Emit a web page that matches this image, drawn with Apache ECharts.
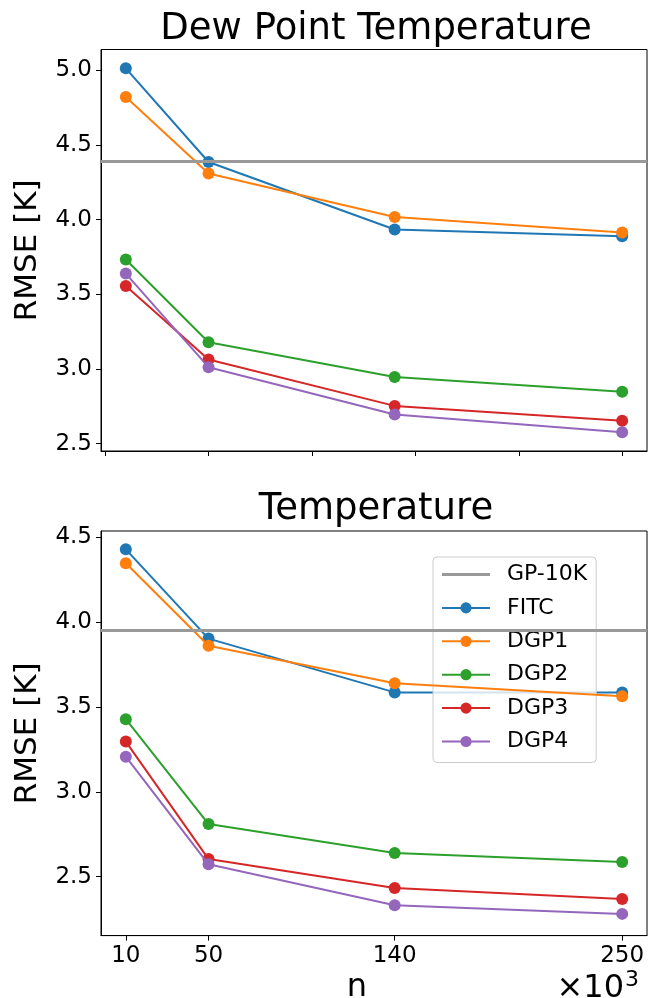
<!DOCTYPE html>
<html>
<head>
<meta charset="utf-8">
<script src="https://cdn.jsdelivr.net/npm/echarts@6/dist/echarts.min.js"></script>
<style>
  html, body { margin: 0; padding: 0; background: #fff; }
  #chart { width: 654px; height: 998px; }
</style>
</head>
<body>
<div id="chart"></div>
<script>
// Training set size n (in thousands)
const sizes = [10, 50, 140, 250];

// Dew point temperature RMSE [K]
const gpDew = 4.393;
const fitcDew = [5.013, 4.386, 3.934, 3.889];
const dgp1Dew = [4.821, 4.309, 4.018, 3.914];
const dgp2Dew = [3.733, 3.179, 2.947, 2.848];
const dgp3Dew = [3.556, 3.064, 2.753, 2.653];
const dgp4Dew = [3.639, 3.012, 2.695, 2.577];

// Temperature RMSE [K]
const gpTemp = 3.954;
const fitcTemp = [4.429, 3.903, 3.586, 3.585];
const dgp1Temp = [4.347, 3.861, 3.640, 3.563];
const dgp2Temp = [3.428, 2.810, 2.640, 2.587];
const dgp3Temp = [3.296, 2.604, 2.433, 2.368];
const dgp4Temp = [3.207, 2.573, 2.332, 2.281];

// Tick positions
const topXTicks = [0, 50, 100, 150, 200, 250];
const bottomXTicks = [10, 50, 140, 250];
const dewYTicks = [2.5, 3.0, 3.5, 4.0, 4.5, 5.0];
const tempYTicks = [2.5, 3.0, 3.5, 4.0, 4.5];

const methodNames = ['FITC', 'DGP1', 'DGP2', 'DGP3', 'DGP4'];
const methodColors = ['#1f77b4', '#ff7f0e', '#2ca02c', '#d62728', '#9467bd'];
const gpName = 'GP-10K';
const gpColor = '#999999';

const FONT = 'DejaVu Sans';
const chart = echarts.init(document.getElementById('chart'), null, { renderer: 'canvas' });

function pairs(ys) {
  return sizes.map((x, i) => [x, ys[i]]);
}

function methodSeries(values, axisIndex) {
  return values.map((ys, k) => ({
    name: methodNames[k],
    type: 'line',
    xAxisIndex: axisIndex,
    yAxisIndex: axisIndex,
    data: pairs(ys),
    symbol: 'circle',
    symbolSize: 12,
    color: methodColors[k],
    lineStyle: { width: 2, color: methodColors[k] },
    itemStyle: { color: methodColors[k] },
    emphasis: { disabled: true },
    animation: false,
    z: 3 + k
  }));
}

// Horizontal reference level, drawn across the whole plot width
function gpSeries(value, axisIndex) {
  return {
    name: gpName,
    type: 'line',
    xAxisIndex: axisIndex,
    yAxisIndex: axisIndex,
    data: [],
    symbol: 'none',
    color: gpColor,
    lineStyle: { width: 3, color: gpColor },
    markLine: {
      silent: true,
      symbol: 'none',
      label: { show: false },
      lineStyle: { type: 'solid', width: 3, color: gpColor },
      data: [{ yAxis: value }]
    },
    animation: false,
    z: 2
  };
}

const tickLabelStyle = { fontFamily: FONT, fontSize: 23, color: '#000' };
const axisLineStyle = { show: true, onZero: false, lineStyle: { color: '#000', width: 1 } };

function xAxisDef(gridIndex, ticks, showLabels) {
  return {
    type: 'value',
    gridIndex: gridIndex,
    min: -2,
    max: 262,
    axisLine: axisLineStyle,
    axisTick: { show: true, inside: false, length: 5, customValues: ticks, lineStyle: { color: '#000', width: 1 } },
    axisLabel: {
      show: showLabels,
      customValues: ticks,
      margin: 9,
      ...tickLabelStyle
    },
    splitLine: { show: false }
  };
}

function yAxisDef(gridIndex, min, max, ticks) {
  return {
    type: 'value',
    gridIndex: gridIndex,
    min: min,
    max: max,
    name: 'RMSE [K]',
    nameLocation: 'middle',
    nameGap: 58,
    nameTextStyle: { fontFamily: FONT, fontSize: 31, color: '#000' },
    axisLine: axisLineStyle,
    axisTick: { show: true, inside: false, length: 5, customValues: ticks, lineStyle: { color: '#000', width: 1 } },
    axisLabel: {
      customValues: ticks,
      margin: 9,
      formatter: v => v.toFixed(1),
      ...tickLabelStyle
    },
    splitLine: { show: false }
  };
}

const option = {
  backgroundColor: '#ffffff',
  animation: false,
  textStyle: { fontFamily: FONT },
  title: [
    { text: 'Dew Point Temperature', left: 371, top: 6, textAlign: 'center',
      textStyle: { fontFamily: FONT, fontSize: 37, fontWeight: 'normal', color: '#000' } },
    { text: 'Temperature', left: 371, top: 486, textAlign: 'center',
      textStyle: { fontFamily: FONT, fontSize: 37, fontWeight: 'normal', color: '#000' } },
    { text: 'n', left: 352, top: 967, textAlign: 'center',
      textStyle: { fontFamily: FONT, fontSize: 32, fontWeight: 'normal', color: '#000' } },
    { text: '{a|×10}{b|3}', right: 10, top: 964,
      textStyle: { fontWeight: 'normal', rich: {
        a: { fontFamily: FONT, fontSize: 32, fontWeight: 'normal', color: '#000', verticalAlign: 'bottom' },
        b: { fontFamily: FONT, fontSize: 22, fontWeight: 'normal', color: '#000', verticalAlign: 'top', padding: [0, 0, 14, 1] }
      } } }
  ],
  grid: [
    { left: 101, right: 7, top: 49.5, height: 401.5, show: true, borderColor: '#000', borderWidth: 1, containLabel: false },
    { left: 101, right: 7, top: 531, height: 404.6, show: true, borderColor: '#000', borderWidth: 1, containLabel: false }
  ],
  legend: {
    show: true,
    data: [{ name: gpName, icon: 'path://M0,0L48,0L48,3L0,3Z' }].concat(methodNames),
    orient: 'vertical',
    left: 433,
    top: 557,
    itemWidth: 48,
    itemHeight: 14,
    itemGap: 11.4,
    padding: [6.5, 9, 10, 8],
    backgroundColor: 'rgba(255,255,255,0.8)',
    borderColor: '#cccccc',
    borderWidth: 1,
    borderRadius: 4,
    selectedMode: false,
    textStyle: { fontFamily: FONT, fontSize: 22, color: '#000', padding: [0, 0, 0, 12] }
  },
  xAxis: [
    xAxisDef(0, topXTicks, false),
    xAxisDef(1, bottomXTicks, true)
  ],
  yAxis: [
    yAxisDef(0, 2.451, 5.139, dewYTicks),
    yAxisDef(1, 2.153, 4.537, tempYTicks)
  ],
  series: [
    gpSeries(gpDew, 0),
    ...methodSeries([fitcDew, dgp1Dew, dgp2Dew, dgp3Dew, dgp4Dew], 0),
    gpSeries(gpTemp, 1),
    ...methodSeries([fitcTemp, dgp1Temp, dgp2Temp, dgp3Temp, dgp4Temp], 1)
  ]
};

chart.setOption(option);
</script>
</body>
</html>
